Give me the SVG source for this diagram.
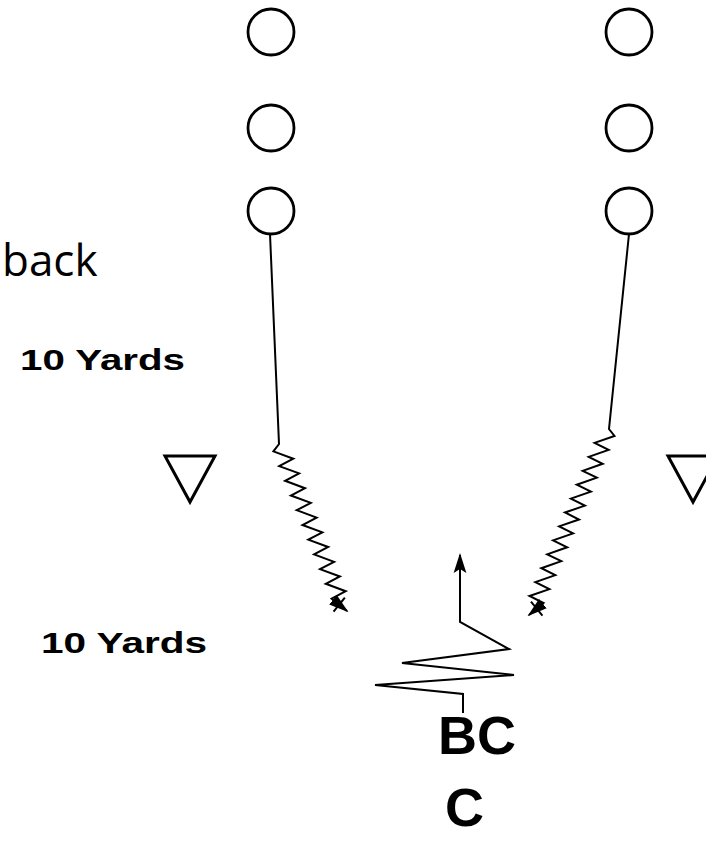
<svg xmlns="http://www.w3.org/2000/svg" width="706" height="842" viewBox="0 0 706 842">
<style>
.pl{fill:none;stroke:#000;stroke-width:2.8}
.ln{fill:none;stroke:#000;stroke-width:2;stroke-linejoin:miter}
.tri{fill:none;stroke:#000;stroke-width:3}
.bt{font-family:"Liberation Sans",Arial,sans-serif;font-weight:bold;fill:#000}
.nt{font-family:"Open Sans","Liberation Sans",sans-serif;fill:#000}
.yd{font-size:29px}
</style>
<defs>
<marker id="ah" viewBox="0 0 10 10" refX="9" refY="5" markerWidth="20" markerHeight="20" markerUnits="userSpaceOnUse" orient="auto">
<path d="M0,1.8 L10,5 L0,8.2 L2,5 Z" fill="#000"/>
</marker>
<marker id="ah2" viewBox="0 0 10 10" refX="9" refY="5" markerWidth="20" markerHeight="20" markerUnits="userSpaceOnUse" orient="auto">
<path d="M0,2 L10,5 L0,8 Z" fill="#000"/>
<path d="M4,0.5 L4,9.5" stroke="#000" stroke-width="1"/>
</marker>
</defs>
<g id="o1"><circle class="pl" cx="271" cy="32" r="23"/></g>
<g id="o2"><circle class="pl" cx="271" cy="128" r="23"/></g>
<g id="o3"><circle class="pl" cx="271" cy="211" r="23"/></g>
<g id="o4"><circle class="pl" cx="629" cy="32" r="23"/></g>
<g id="o5"><circle class="pl" cx="629" cy="128" r="23"/></g>
<g id="o6"><circle class="pl" cx="629" cy="211" r="23"/></g>
<g id="d1"><polygon class="tri" points="165,456 215,456 190,502"/></g>
<g id="d2"><polygon class="tri" points="668,456 718,456 693,502"/></g>
<g id="labels">
<text class="nt" x="2" y="276" font-size="44">back</text>
<text class="bt yd" x="20" y="370" textLength="165" lengthAdjust="spacingAndGlyphs">10 Yards</text>
<text class="bt yd" x="41" y="653" textLength="166" lengthAdjust="spacingAndGlyphs">10 Yards</text>
<text id="bc" class="bt" x="438" y="754" font-size="54">BC</text>
<text id="c" class="bt" x="445" y="826" font-size="54">C</text>
</g>
<g id="connectors">
<path class="ln" marker-end="url(#ah2)" d="M270,234 L279,444 L273.4,451.4 L293.3,458.7 L279.2,466.1 L299.1,473.4 L285.1,480.8 L305,488.2 L290.9,495.5 L310.8,502.9 L296.7,510.2 L316.6,517.6 L302.5,525 L322.4,532.3 L308.3,539.7 L328.2,547 L314.1,554.4 L334.1,561.8 L320,569.1 L339.9,576.5 L325.8,583.8 L345.7,591.2 L331.6,598.6 L347,611"/>
<path class="ln" marker-end="url(#ah2)" d="M629,234 L609,429 L614.5,436 L594.6,442.9 L608.6,449.9 L588.7,456.8 L602.7,463.8 L582.7,470.8 L596.8,477.7 L576.8,484.7 L590.9,491.6 L570.9,498.6 L584.9,505.6 L565,512.5 L579,519.5 L559.1,526.4 L573.1,533.4 L553.1,540.4 L567.2,547.3 L547.2,554.3 L561.3,561.2 L541.3,568.2 L555.3,575.2 L535.4,582.1 L549.4,589.1 L529.5,596 L543.5,603 L529,615"/>
<path class="ln" marker-end="url(#ah)" d="M463,713 L463,694 L375,685 L514,675 L402,663 L509,649 L460,622 L460,555"/>
</g>
</svg>
